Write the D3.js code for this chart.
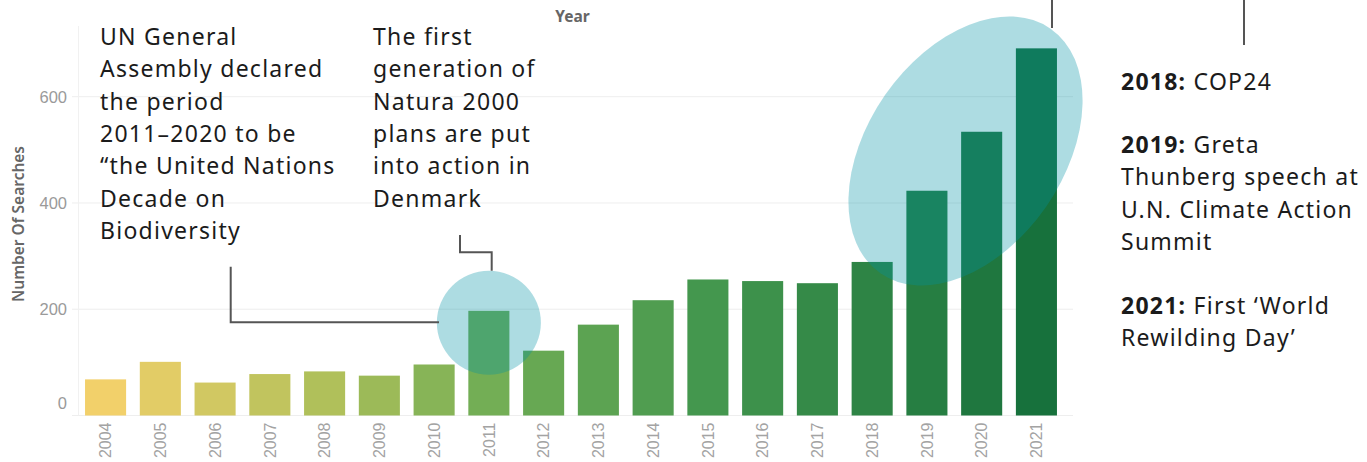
<!DOCTYPE html>
<html>
<head>
<meta charset="utf-8">
<script src="https://cdn.jsdelivr.net/npm/d3@7"></script>
<style>
  html, body { margin: 0; padding: 0; background: #fff; }
  svg { display: block; }
</style>
</head>
<body>
<svg id="chart" width="1367" height="462"></svg>
<script>
// ---- data ----
const years = ["2004","2005","2006","2007","2008","2009","2010","2011","2012","2013","2014","2015","2016","2017","2018","2019","2020","2021"];
const searches = [68, 101, 62, 78, 83, 75, 96, 197, 122, 171, 217, 256, 253, 249, 289, 423, 534, 691];
const yTickValues = [0, 200, 400, 600];
const xTitle = "Year";
const yTitle = "Number Of Searches";
const noteUN = ["UN General", "Assembly declared", "the period", "2011\u20132020 to be", "\u201cthe United Nations", "Decade on", "Biodiversity"];
const noteNatura = ["The first", "generation of", "Natura 2000", "plans are put", "into action in", "Denmark"];
const rightNotes = [
  { bold: "2018:", lines: [" COP24"] },
  { bold: "2019:", lines: [" Greta", "Thunberg speech at", "U.N. Climate Action", "Summit"] },
  { bold: "2021:", lines: [" First \u2018World", "Rewilding Day\u2019"] }
];

// ---- layout ----
const svg = d3.select("#chart");
const x = d3.scaleBand().domain(years).range([78.2, 1063.8]).paddingInner(0.25).paddingOuter(0.125);
const y = d3.scaleLinear().domain([0, 600]).range([415.5, 96.7]);
const color = d3.scaleLinear()
  .domain([2004, 2008, 2011, 2015, 2021])
  .range(["#f2d06a", "#b0c05a", "#73ae55", "#44974e", "#17713c"])
  .interpolate(d3.interpolateRgb);

// gridlines
svg.append("g").selectAll("line").data(yTickValues).join("line")
  .attr("x1", 72).attr("x2", 1073)
  .attr("y1", d => y(d)).attr("y2", d => y(d))
  .attr("stroke", "#eeeeee").attr("stroke-width", 1);

// faint y axis line
svg.append("line").attr("x1", 78.5).attr("x2", 78.5).attr("y1", 26).attr("y2", y(0))
  .attr("stroke", "#f1f1f1").attr("stroke-width", 1);

// y axis labels
const yAxis = svg.append("g").attr("transform", "translate(67,0)")
  .call(d3.axisLeft(y).tickValues(yTickValues).tickSize(0).tickPadding(0));
yAxis.select(".domain").remove();
yAxis.selectAll("text")
  .attr("font-family", "'Liberation Sans', Arial, sans-serif")
  .attr("font-size", 16.5).attr("fill", "#9a9a9a")
  .attr("dy", d => d === 0 ? "-0.4em" : "0.34em");

// x axis labels (rotated)
const xAxis = svg.append("g").attr("transform", `translate(0,${y(0) + 7})`)
  .call(d3.axisBottom(x).tickSize(0).tickPadding(0));
xAxis.select(".domain").remove();
xAxis.selectAll("text")
  .attr("font-family", "'Liberation Sans', Arial, sans-serif")
  .attr("font-size", 16).attr("fill", "#a3a3a3")
  .attr("transform", "rotate(-90)")
  .attr("text-anchor", "end")
  .attr("x", 0).attr("y", 0).attr("dx", 0).attr("dy", "0.36em");

// titles
svg.append("text").text(xTitle)
  .attr("x", 572.5).attr("y", 21.5)
  .attr("text-anchor", "middle")
  .attr("font-family", "'Noto Sans', sans-serif").attr("font-weight", 700)
  .attr("font-size", 15.5).attr("fill", "#666");
svg.append("text").text(yTitle)
  .attr("transform", "translate(24,224) rotate(-90)")
  .attr("text-anchor", "middle")
  .attr("font-family", "'Noto Sans', sans-serif").attr("font-weight", 600)
  .attr("font-size", 15.5).attr("fill", "#666");

// bars
svg.append("g").selectAll("rect").data(years).join("rect")
  .attr("x", d => x(d))
  .attr("width", x.bandwidth())
  .attr("y", (d, i) => y(searches[i]))
  .attr("height", (d, i) => y(0) - y(searches[i]))
  .attr("fill", d => color(+d));

// highlight shapes
const hl = "rgba(0,146,164,0.32)";
svg.append("circle").attr("cx", x("2011") + x.bandwidth() / 2).attr("cy", 322.7).attr("r", 52)
  .attr("fill", hl);
svg.append("ellipse").attr("cx", 0).attr("cy", 0).attr("rx", 149).attr("ry", 98)
  .attr("transform", "translate(965.5,151) rotate(-55.2)")
  .attr("fill", hl);

// leader lines
const lines = [
  "M230.7,266.7 V322.3 H439",
  "M460,235 V252.3 H491.7 V270.7",
  "M1052,0 V28",
  "M1244,0 V45"
];
svg.append("g").selectAll("path").data(lines).join("path")
  .attr("d", d => d).attr("fill", "none")
  .attr("stroke", "#555").attr("stroke-width", 2);

// annotations
const noteFont = "'Noto Sans', 'Open Sans', sans-serif";
function noteText() {
  return svg.append("text").attr("font-family", noteFont).attr("font-size", 23)
    .attr("letter-spacing", 1.25).attr("fill", "#1b1b1b");
}
function block(lines, x0, y0) {
  const t = noteText();
  lines.forEach((l, i) => t.append("tspan").attr("x", x0).attr("y", y0 + i * 32.3).text(l));
}
block(noteUN, 100, 45);
block(noteNatura, 373, 45);

const rightY = [90, 153, 314];
rightNotes.forEach((n, k) => {
  const t = noteText();
  t.append("tspan").attr("x", 1121).attr("y", rightY[k]).attr("font-weight", 700).text(n.bold);
  t.append("tspan").text(n.lines[0]);
  n.lines.slice(1).forEach((l, i) => t.append("tspan").attr("x", 1121).attr("y", rightY[k] + (i + 1) * 32.3).text(l));
});
</script>
</body>
</html>
